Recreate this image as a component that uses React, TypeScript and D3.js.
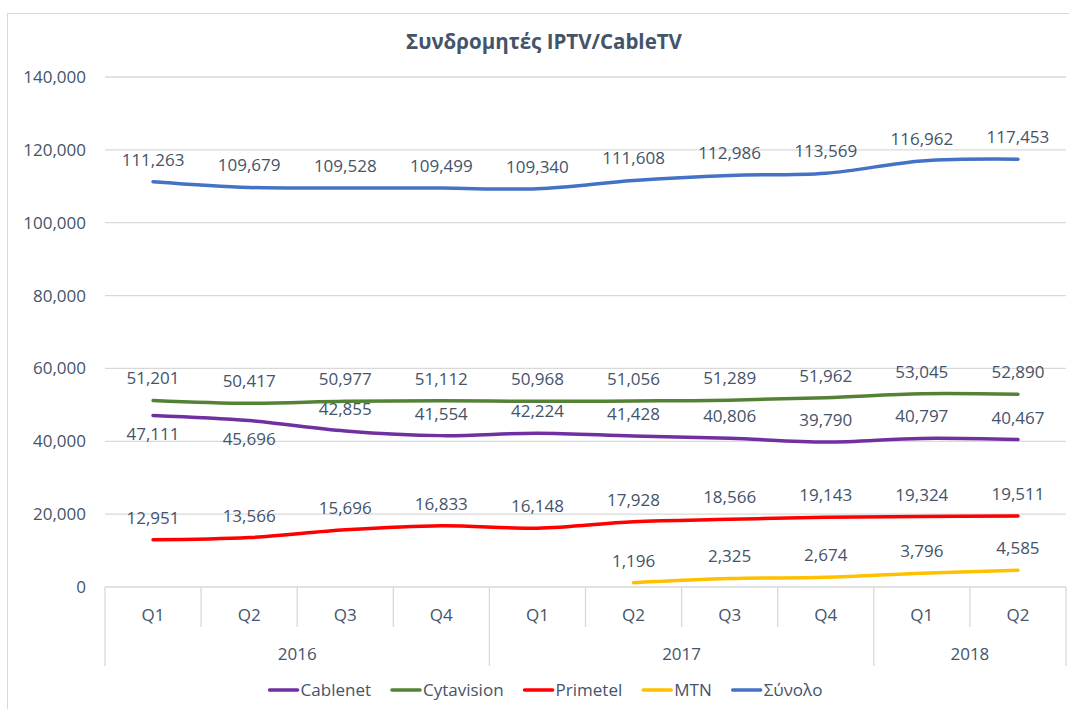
import React, { useRef, useEffect } from "react";
import * as d3 from "d3";

const quarters = ["Q1", "Q2", "Q3", "Q4", "Q1", "Q2", "Q3", "Q4", "Q1", "Q2"];
const quarterYears = ["2016", "2016", "2016", "2016", "2017", "2017", "2017", "2017", "2018", "2018"];
const years = ["2016", "2017", "2018"];
const yTicks = [0, 20000, 40000, 60000, 80000, 100000, 120000, 140000];

const cablenet = [47111, 45696, 42855, 41554, 42224, 41428, 40806, 39790, 40797, 40467];
const cytavision = [51201, 50417, 50977, 51112, 50968, 51056, 51289, 51962, 53045, 52890];
const primetel = [12951, 13566, 15696, 16833, 16148, 17928, 18566, 19143, 19324, 19511];
const mtn = [null, null, null, null, null, 1196, 2325, 2674, 3796, 4585];
const total = [111263, 109679, 109528, 109499, 109340, 111608, 112986, 113569, 116962, 117453];

const seriesNames = ["Cablenet", "Cytavision", "Primetel", "MTN", "Σύνολο"];
const seriesValues = [cablenet, cytavision, primetel, mtn, total];
const colors = ["#7030A0", "#548235", "#FF0000", "#FFC000", "#4472C4"];
// labels drawn under the point instead of above (series index -> point indices)
const labelsBelow: Record<number, number[]> = { 0: [0, 1] };

const W = 1069, H = 709;
const left = 105, right = 1066, top = 77, bottom = 587;
const font = "'Open Sans', sans-serif";
const textColor = "#44546A";
const gridColor = "#D9D9D9";

const App = () => {
  const svgRef = useRef<SVGSVGElement>(null);

  useEffect(() => {
    const svg = d3.select(svgRef.current);
    svg.selectAll("*").remove();

    const x = d3.scaleBand<number>().domain(d3.range(quarters.length)).range([left, right]);
    const cx = (i: number) => (x(i) as number) + x.bandwidth() / 2;
    const y = d3.scaleLinear().domain([0, 140000]).range([bottom, top]);
    const fmt = d3.format(",");

    svg.append("rect")
      .attr("x", 7.5).attr("y", 13.5).attr("width", W).attr("height", H)
      .attr("fill", "#fff").attr("stroke", gridColor);

    svg.append("text")
      .attr("x", 544).attr("y", 42).attr("dy", "0.35em")
      .attr("text-anchor", "middle")
      .attr("font-family", font).attr("font-weight", "bold").attr("font-size", 20.5)
      .attr("fill", textColor)
      .text("Συνδρομητές IPTV/CableTV");

    // gridlines + y labels
    const yg = svg.append("g");
    yTicks.forEach(t => {
      if (t > 0) {
        yg.append("line")
          .attr("x1", left).attr("x2", right)
          .attr("y1", y(t)).attr("y2", y(t))
          .attr("stroke", gridColor).attr("stroke-width", 1.3);
      }
      yg.append("text")
        .attr("x", 86).attr("y", y(t)).attr("dy", "0.35em")
        .attr("text-anchor", "end")
        .attr("font-family", font).attr("font-size", 17)
        .attr("fill", textColor)
        .text(fmt(t));
    });

    // category axis (two levels)
    const xg = svg.append("g");
    xg.append("line")
      .attr("x1", left).attr("x2", right).attr("y1", bottom).attr("y2", bottom)
      .attr("stroke", gridColor).attr("stroke-width", 1.3);
    quarters.forEach((q, i) => {
      const x0 = x(i) as number;
      const yearStart = i === 0 || quarterYears[i] !== quarterYears[i - 1];
      xg.append("line")
        .attr("x1", x0).attr("x2", x0)
        .attr("y1", bottom).attr("y2", yearStart ? 666 : 627)
        .attr("stroke", gridColor).attr("stroke-width", 1.3);
      xg.append("text")
        .attr("x", cx(i)).attr("y", 615).attr("dy", "0.35em")
        .attr("text-anchor", "middle")
        .attr("font-family", font).attr("font-size", 17)
        .attr("fill", textColor)
        .text(q);
    });
    xg.append("line")
      .attr("x1", right).attr("x2", right).attr("y1", bottom).attr("y2", 666)
      .attr("stroke", gridColor).attr("stroke-width", 1.3);
    years.forEach(yr => {
      const idx = quarterYears.map((d, i) => (d === yr ? i : -1)).filter(i => i >= 0);
      const x0 = x(idx[0]) as number;
      const x1 = (x(idx[idx.length - 1]) as number) + x.bandwidth();
      xg.append("text")
        .attr("x", (x0 + x1) / 2).attr("y", 654).attr("dy", "0.35em")
        .attr("text-anchor", "middle")
        .attr("font-family", font).attr("font-size", 17)
        .attr("fill", textColor)
        .text(yr);
    });

    // lines
    const line = d3.line<[number, number | null]>()
      .defined(d => d[1] != null)
      .x(d => cx(d[0]))
      .y(d => y(d[1] as number))
      .curve(d3.curveCatmullRom.alpha(0.5));

    seriesValues.forEach((vals, s) => {
      const pts = vals.map((v, i) => [i, v] as [number, number | null]);
      svg.append("path")
        .attr("d", line(pts) as string)
        .attr("fill", "none")
        .attr("stroke", colors[s])
        .attr("stroke-width", 3.5)
        .attr("stroke-linecap", "round");
    });

    // data labels
    seriesValues.forEach((vals, s) => {
      vals.forEach((v, i) => {
        if (v == null) return;
        const below = (labelsBelow[s] || []).includes(i);
        svg.append("text")
          .attr("x", cx(i)).attr("y", y(v) + (below ? 19 : -22)).attr("dy", "0.35em")
          .attr("text-anchor", "middle")
          .attr("font-family", font).attr("font-size", 17)
          .attr("fill", textColor)
          .text(fmt(v));
      });
    });

    // legend
    const lg = svg.append("g");
    const gap = 21;
    let cursor = 0;
    seriesNames.forEach((name, s) => {
      const item = lg.append("g").attr("transform", `translate(${cursor},0)`);
      item.append("line")
        .attr("x1", 0).attr("x2", 28).attr("y1", 690).attr("y2", 690)
        .attr("stroke", colors[s]).attr("stroke-width", 3.5).attr("stroke-linecap", "round");
      const t = item.append("text")
        .attr("x", 31).attr("y", 690).attr("dy", "0.35em")
        .attr("font-family", font).attr("font-size", 17)
        .attr("fill", textColor)
        .text(name);
      const tw = (t.node() as SVGTextElement).getComputedTextLength();
      cursor += 31 + tw + gap;
    });
    const totalW = cursor - gap;
    lg.attr("transform", `translate(${546 - totalW / 2},0)`);
  }, []);

  return (
    <svg ref={svgRef} width={W} height={H}
      style={{ position: "absolute", left: 0, top: 0, display: "block" }} />
  );
};

export default App;
